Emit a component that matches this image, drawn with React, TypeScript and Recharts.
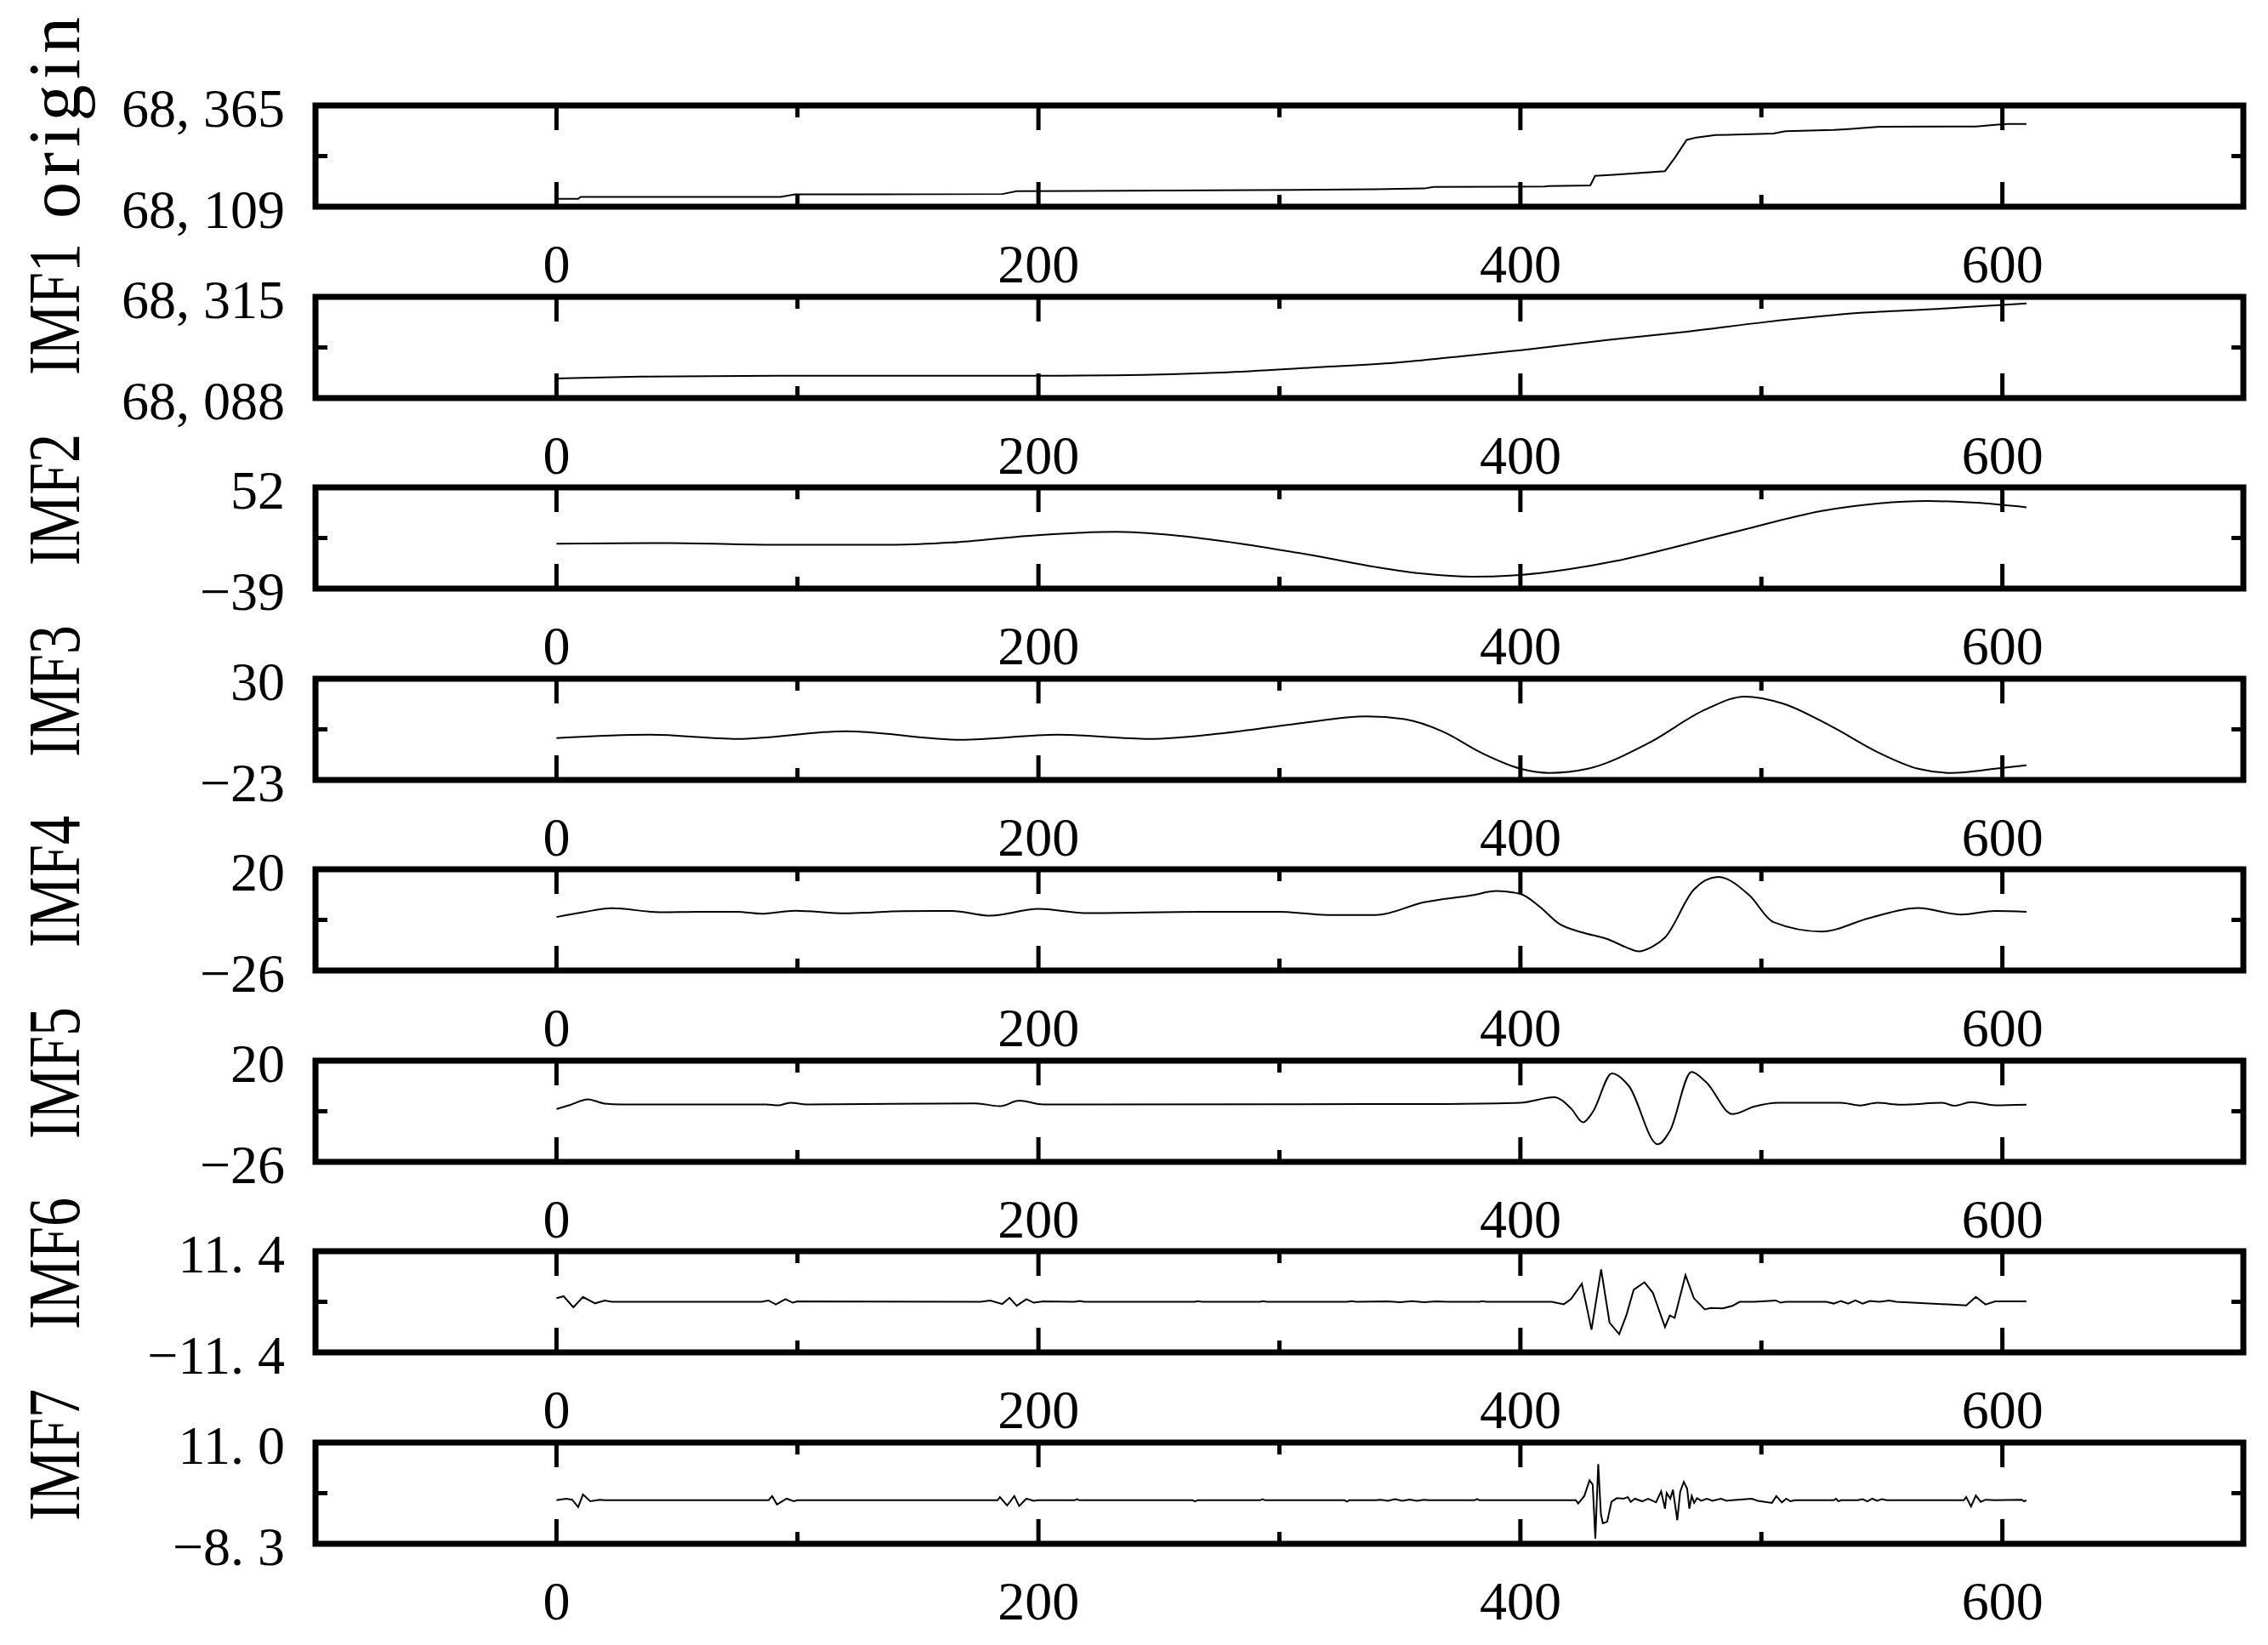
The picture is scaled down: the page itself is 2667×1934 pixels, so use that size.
import { LineChart, Line, XAxis, YAxis, ReferenceArea } from 'recharts';

const FONT = '"Liberation Serif", "Times New Roman", serif';

// one panel per row, top to bottom
const panelNames = ['origin', 'IMF1', 'IMF2', 'IMF3', 'IMF4', 'IMF5', 'IMF6', 'IMF7'];
const yMins = [68109, 68088, -39, -23, -26, -26, -11.4, -8.3];
const yMaxs = [68365, 68315, 52, 30, 20, 20, 11.4, 11.0];
const yMinLabels = ['68,109', '68,088', '−39', '−23', '−26', '−26', '−11.4', '−8.3'];
const yMaxLabels = ['68,365', '68,315', '52', '30', '20', '20', '11.4', '11.0'];
const xTicks = [0, 100, 200, 300, 400, 500, 600];
const xLabelTicks = [0, 200, 400, 600];

const origin: [number, number][] = [
  [0, 68129], [9, 68129], [10, 68134], [93, 68134], [99, 68140], [185, 68141], [191, 68148],
  [290, 68151], [340, 68153], [360, 68155], [364, 68159], [410, 68160], [412, 68161], [429, 68163],
  [431, 68187], [440, 68190], [460, 68199], [464, 68232], [469, 68278], [473, 68284], [481, 68290],
  [505, 68294], [510, 68300], [530, 68303], [535, 68305], [549, 68311], [589, 68312], [597, 68316],
  [602, 68318], [610, 68318],
];

const imf1: [number, number][] = [
  [0, 68132], [35, 68136], [91, 68138], [200, 68138], [232, 68139], [276, 68145], [316, 68157],
  [348, 68167], [376, 68182], [401, 68196], [436, 68218], [469, 68237], [501, 68258], [541, 68279],
  [573, 68288], [600, 68297], [610, 68300],
];

const imf2: [number, number][] = [
  [0, 1.4], [47, 1.9], [91, 0.4], [140, 0.4], [164, 2.4], [196, 8.5], [232, 12], [256, 9],
  [284, 1.4], [316, -10], [340, -19.6], [360, -25.7], [380, -28.3], [400, -26.7], [420, -21.6],
  [440, -14], [464, -1.7], [493, 14.2], [525, 30.8], [549, 37.7], [569, 39.7], [589, 38.2], [610, 34.1],
];

const imf3: [number, number][] = [
  [0, -1.1], [39, 0.7], [75, -1.5], [120, 2.5], [168, -2], [208, 0.7], [246, -1.5], [276, 1.4],
  [308, 6.6], [336, 10.3], [352, 8.8], [368, 2.2], [384, -8.9], [400, -17.1], [412, -19.3],
  [428, -17.1], [453, -3.8], [477, 14], [493, 20.7], [509, 17], [529, 5.1], [549, -8.9],
  [565, -17.1], [579, -19.3], [597, -17.1], [610, -15.3],
];

const imf4: [number, number][] = [
  [0, -1.7], [11, 0.5], [23, 2.3], [43, 0.5], [59, 0.7], [75, 0.7], [85, -0.2], [99, 1.2],
  [120, 0], [144, 1], [164, 1.1], [180, -1.1], [200, 2], [220, 0.1], [268, 0.7], [300, 0.7],
  [320, -0.8], [340, -0.8], [360, 5], [380, 8.2], [390, 10.1], [400, 8.8], [408, 3], [416, -4.7],
  [426, -8.8], [436, -11.7], [444, -15.5], [449, -17.3], [455, -15], [460, -11], [472, 10.8],
  [482, 16.5], [495, 8.2], [505, -4], [525, -8.3], [545, -2.1], [565, 2.4], [583, -0.6],
  [597, 1.1], [610, 0.7],
];

const imf5: [number, number][] = [
  [0, -2], [6, 0], [13, 2.4], [20, 0.5], [27, 0.1], [87, 0.1], [92, -0.3], [97, 0.9], [104, 0.1],
  [174, 0.6], [184, -0.7], [192, 1.8], [202, 0.1], [300, 0.2], [369, 0.3], [400, 0.85],
  [414, 3.4], [421, -1.7], [426, -8], [430, -3.4], [438, 14.2], [445, 8.5], [457, -18],
  [462, -12], [471, 14.9], [477, 10.3], [488, -4.3], [497, -0.9], [507, 0.85], [533, 0.85],
  [541, -0.35], [548, 0.85], [558, 0], [575, 0.85], [580, -0.5], [587, 1.2], [597, -0.3], [610, 0],
];

const imf6: [number, number][] = [
  [0, 0.8], [3, 1.25], [7, -1.25], [11, 1.1], [16, -0.35], [20, 0.3], [23, 0], [85, 0],
  [88, 0.3], [91, -0.6], [95, 0.6], [98, -0.2], [100, 0.1], [176, 0], [180, 0.3], [185, -0.5],
  [188, 0.9], [191, -0.9], [195, 0.6], [198, -0.2], [202, 0.1], [215, 0], [217, 0.2], [219, 0],
  [265, 0], [266, 0.15], [268, 0], [292, 0], [293, 0.15], [295, 0], [328, 0], [330, 0.15],
  [332, 0], [345, 0.1], [350, -0.1], [355, 0.15], [360, -0.1], [365, 0.1], [370, 0], [383, 0],
  [384, 0.15], [386, 0], [413, 0], [418, -0.55], [421, 0.6], [425.5, 4.1], [429.5, -6.3],
  [433.5, 7.3], [437, -4.7], [441, -7.3], [444, -3], [447, 2.7], [451.5, 4.4], [455, 2],
  [460, -5.7], [462, -3.1], [464, -3.6], [468.5, 6], [472, 0.8], [476.5, -1.7], [479, -1.4],
  [484, -1.5], [488, -0.9], [491, 0], [497, 0], [506, 0.3], [508, -0.2], [510, 0], [527, 0],
  [530, -0.4], [533, 0.2], [536, -0.4], [539, 0.3], [542, -0.4], [545, 0.2], [549, 0], [553, 0.3],
  [556, 0], [585, -0.8], [589, 1.1], [593, -0.6], [597, 0.1], [610, 0.1],
];

const imf7: [number, number][] = [
  [0, 0], [4, 0.3], [6.5, 0.1], [9, -1.3], [11, 1.1], [14, -0.2], [18, 0.1], [20, 0], [88, 0],
  [89.5, 0.8], [91.5, -0.8], [95.5, 0.3], [98.5, -0.2], [100, 0], [183, 0], [184, 0.6], [187, -1],
  [190, 0.8], [192, -1.1], [195, 0.3], [198, -0.1], [200, 0], [215, 0], [216, 0.2], [217, 0],
  [264, 0], [265, -0.2], [266, 0], [292, 0], [293, 0.2], [294, 0], [327, 0], [328, -0.25],
  [329, 0], [340, 0], [342, 0.1], [345, -0.1], [348, 0.2], [351, -0.1], [354, 0.15], [357, -0.1],
  [360, 0.1], [362, 0], [381, 0], [382, 0.25], [383, 0], [423, 0], [424, -0.6], [426.5, 0.8],
  [428.7, 3.8], [430, 3.0], [431.1, -7.3], [432.3, 6.9], [433.4, -2.6], [434.2, -4.4],
  [436, -4.1], [437.8, -0.3], [440, 0.4], [442.8, 0.3], [444.6, 0.6], [445.8, -0.3],
  [447.5, 0.3], [450.5, -0.2], [453, 0.3], [456.3, -0.4], [458.4, 1.7], [460, -1.6],
  [460.7, 1.4], [462.2, 0.3], [463.3, 2.0], [465.1, -3.8], [466.3, 1.6], [467.8, 3.5],
  [469.2, 2.2], [470.1, -1.6], [471.1, 0.8], [472.1, -0.5], [473.3, 0.4], [475, -0.1],
  [477.4, 0.3], [479.7, -0.1], [483.2, 0.3], [485.6, -0.1], [488, 0], [496, 0.3], [498.5, -0.1],
  [504.4, -0.5], [506.2, 0.8], [508.5, -0.4], [510.3, 0.3], [512, -0.2], [514, 0], [530, 0],
  [531, 0.3], [532, -0.2], [533, 0], [540, 0], [542, 0.2], [544, -0.2], [546, 0.3], [548, -0.1],
  [550, 0.2], [552, 0], [584, 0], [585, 0.6], [587, -1.2], [589, 0.9], [591, -0.3], [593, 0.1],
  [597, 0], [608, 0.1], [609, -0.2], [610, 0],
];

const series = [origin, imf1, imf2, imf3, imf4, imf5, imf6, imf7];
const curveTypes = ['linear', 'monotone', 'monotone', 'monotone', 'monotone', 'monotone', 'linear', 'linear'];

const PANEL_STEP = 224.5;
const PLOT_TOP = 124;
const PLOT_H = 119;
const PLOT_LEFT = 371;
const PLOT_RIGHT_GAP = 29;
const BELOW = 110;
// axis sizes (kept non-zero so recharts draws them)
const TOP_AXIS_H = 30;
const BOTTOM_AXIS_H = 100;
const LEFT_AXIS_W = 60;
const RIGHT_AXIS_W = 29;
const TICK_W = 5;

// draws "68,365" with the wide gap after the separator, like the original font
function gapText(s: string) {
  const m = s.match(/^(.*[.,])(.*)$/);
  if (!m) return s;
  return [m[1], <tspan key="t" dx={16}>{m[2]}</tspan>];
}

const BottomTick = (props: any) => {
  const { x, y, payload } = props;
  const major = xLabelTicks.includes(payload.value);
  return (
    <g>
      <line x1={x} x2={x} y1={y} y2={y - (major ? 29 : 14)} stroke="#000" strokeWidth={TICK_W} />
      {major && (
        <text x={x} y={y + 89} textAnchor="middle" fontSize={64} fontFamily={FONT} fill="#000">
          {payload.value}
        </text>
      )}
    </g>
  );
};

const TopTick = (props: any) => {
  const { x, y, payload } = props;
  const major = xLabelTicks.includes(payload.value);
  return <line x1={x} x2={x} y1={y} y2={y + (major ? 29 : 14)} stroke="#000" strokeWidth={TICK_W} />;
};

const RightTick = (props: any) => {
  const { x, y } = props;
  return <line x1={x} x2={x - 14} y1={y} y2={y} stroke="#000" strokeWidth={TICK_W} />;
};

function makeLeftTick(idx: number) {
  return (props: any) => {
    const { x, y, payload } = props;
    const v = payload.value;
    if (v === yMaxs[idx] || v === yMins[idx]) {
      const label = v === yMaxs[idx] ? yMaxLabels[idx] : yMinLabels[idx];
      return (
        <text x={x - 36} y={y + 25} textAnchor="end" fontSize={64} fontFamily={FONT} fill="#000">
          {gapText(label)}
        </text>
      );
    }
    const lx = x - 278;
    const ly = y - 45;
    const name = panelNames[idx];
    const isOrigin = name === 'origin';
    return (
      <g>
        <line x1={x} x2={x + 14} y1={y} y2={y} stroke="#000" strokeWidth={TICK_W} />
        <text
          x={lx}
          y={ly}
          transform={`rotate(-90 ${lx} ${ly})`}
          textAnchor="middle"
          fontSize={86}
          fontFamily={FONT}
          fill="#000"
          textLength={isOrigin ? 237 : 155}
          lengthAdjust={isOrigin ? 'spacing' : 'spacingAndGlyphs'}
        >
          {name}
        </text>
      </g>
    );
  };
}

function Panel({ idx }: { idx: number }) {
  const data = series[idx].map(([x, y]) => ({ x, y }));
  const lo = yMins[idx];
  const hi = yMaxs[idx];
  const mid = (lo + hi) / 2;
  return (
    <div style={{ position: 'absolute', left: 0, top: PANEL_STEP * idx }}>
      <LineChart
        width={2667}
        height={PLOT_TOP + PLOT_H + BELOW}
        data={data}
        margin={{
          top: PLOT_TOP - TOP_AXIS_H,
          right: PLOT_RIGHT_GAP - RIGHT_AXIS_W,
          bottom: BELOW - BOTTOM_AXIS_H,
          left: PLOT_LEFT - LEFT_AXIS_W,
        }}
      >
        <XAxis
          xAxisId="b"
          dataKey="x"
          type="number"
          domain={[-100, 700]}
          ticks={xTicks}
          interval={0}
          height={BOTTOM_AXIS_H}
          tickSize={0}
          tickMargin={0}
          axisLine={false}
          tickLine={false}
          tick={BottomTick}
          allowDataOverflow
        />
        <XAxis
          xAxisId="t"
          orientation="top"
          dataKey="x"
          type="number"
          domain={[-100, 700]}
          ticks={xTicks}
          interval={0}
          height={TOP_AXIS_H}
          tickSize={0}
          tickMargin={0}
          axisLine={false}
          tickLine={false}
          tick={TopTick}
          allowDataOverflow
        />
        <YAxis
          yAxisId="l"
          type="number"
          domain={[lo, hi]}
          ticks={[lo, mid, hi]}
          interval={0}
          width={LEFT_AXIS_W}
          tickSize={0}
          tickMargin={0}
          axisLine={false}
          tickLine={false}
          tick={makeLeftTick(idx)}
          allowDataOverflow
        />
        <YAxis
          yAxisId="r"
          orientation="right"
          type="number"
          domain={[lo, hi]}
          ticks={[mid]}
          interval={0}
          width={RIGHT_AXIS_W}
          tickSize={0}
          tickMargin={0}
          axisLine={false}
          tickLine={false}
          tick={RightTick}
          allowDataOverflow
        />
        <ReferenceArea
          xAxisId="b"
          yAxisId="l"
          x1={-100}
          x2={700}
          y1={lo}
          y2={hi}
          fill="none"
          stroke="#000"
          strokeWidth={7}
          ifOverflow="visible"
        />
        <Line
          xAxisId="b"
          yAxisId="l"
          dataKey="y"
          type={curveTypes[idx] as any}
          stroke="#000"
          strokeWidth={2}
          dot={false}
          activeDot={false}
          isAnimationActive={false}
        />
      </LineChart>
    </div>
  );
}

export default function App() {
  return (
    <div style={{ position: 'absolute', left: 0, top: 0, width: 2667, height: 1934, background: '#fff' }}>
      {panelNames.map((_, i) => (
        <Panel key={i} idx={i} />
      ))}
    </div>
  );
}
